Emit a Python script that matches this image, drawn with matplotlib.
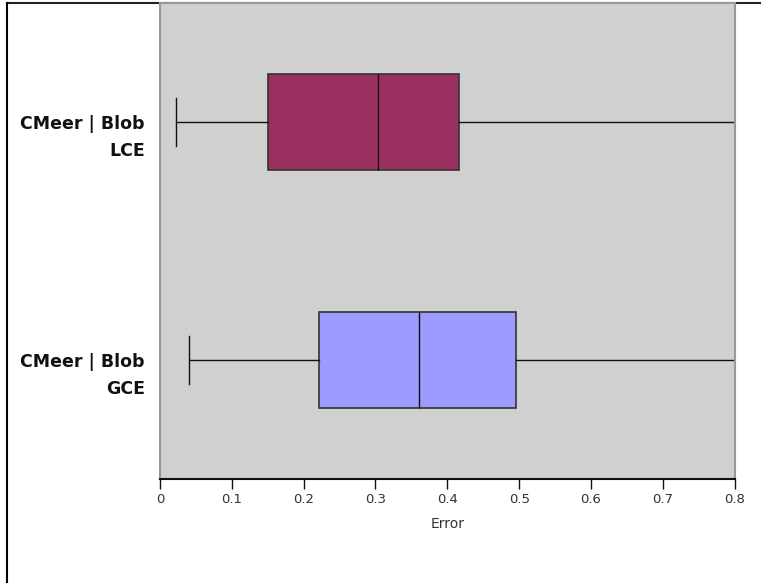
import matplotlib
matplotlib.use("Agg")
import matplotlib.pyplot as plt
from matplotlib.lines import Line2D
from matplotlib.transforms import ScaledTranslation

# box statistics per configuration (bottom to top)
labels = ["CMeer | Blob\nGCE", "CMeer | Blob\nLCE"]
whisker_low = [0.041, 0.022]
q1 = [0.221, 0.150]
median = [0.360, 0.304]
q3 = [0.495, 0.416]
whisker_high = [0.90, 0.90]
box_colors = ["#9c9cff", "#9a3060"]

stats = []
for i, lab in enumerate(labels):
    stats.append({
        "label": lab,
        "whislo": whisker_low[i],
        "q1": q1[i],
        "med": median[i],
        "q3": q3[i],
        "whishi": whisker_high[i],
        "fliers": [],
    })

fig = plt.figure(figsize=(7.61, 5.83), dpi=100)
ax = fig.add_axes([0.2102, 0.1784, 0.9654 - 0.2102, 0.9949 - 0.1784])
ax.set_facecolor("#d0d0d0")

bp = ax.bxp(stats, positions=[1, 2], vert=False, widths=0.40,
            patch_artist=True, showfliers=False,
            boxprops=dict(edgecolor="#333333", linewidth=1.2),
            medianprops=dict(color="#111111", linewidth=1.0),
            whiskerprops=dict(color="#111111", linewidth=1.0),
            capprops=dict(color="#111111", linewidth=1.0),
            capwidths=0.20)
for patch, c in zip(bp["boxes"], box_colors):
    patch.set_facecolor(c)

ax.set_xlim(0, 0.8)
ax.set_ylim(0.5, 2.5)
ax.set_xticks([0, 0.1, 0.2, 0.3, 0.4, 0.5, 0.6, 0.7, 0.8])
ax.set_xticklabels(["0", "0.1", "0.2", "0.3", "0.4", "0.5", "0.6", "0.7", "0.8"])
ax.tick_params(axis="x", length=7, width=1, color="#111111", labelsize=9.5,
               labelcolor="#333333", pad=3)
ax.tick_params(axis="y", length=0, pad=11)
ax.set_yticks([1, 2])
ax.set_yticklabels(labels, fontsize=12.5, fontweight="bold", linespacing=1.62,
                   va="baseline", color="#111111")
# baseline of the second line sits below the tick so the first line meets the whisker
shift = ScaledTranslation(0, -34 / 100, fig.dpi_scale_trans)
for t in ax.get_yticklabels():
    t.set_multialignment("right")
    t.set_transform(t.get_transform() + shift)
ax.set_xlabel("Error", fontsize=10, color="#333333", labelpad=8)

for side in ["top", "left", "right"]:
    ax.spines[side].set_color("#999999")
    ax.spines[side].set_linewidth(1.5)
ax.spines["bottom"].set_color("#111111")
ax.spines["bottom"].set_linewidth(1.5)

# outer frame around the chart panel
W, H = 761, 583
fig.add_artist(Line2D([7 / W, 7 / W], [0, 1 - 3 / H], color="black",
                      linewidth=1.5, transform=fig.transFigure))
fig.add_artist(Line2D([7 / W, 1], [1 - 3 / H, 1 - 3 / H], color="#222222",
                      linewidth=1.5, transform=fig.transFigure, zorder=0))

fig.savefig("out.png", dpi=100)
